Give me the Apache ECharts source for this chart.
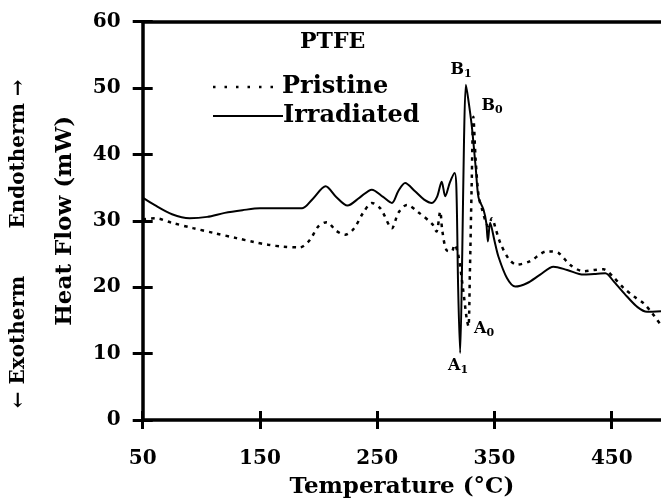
<!DOCTYPE html>
<html><head><meta charset="utf-8">
<script src="https://cdn.jsdelivr.net/npm/echarts@6/dist/echarts.min.js"></script>
<style>html,body{margin:0;padding:0;background:#fff}#c{width:661px;height:499px}</style>
</head><body><div id="c"></div>
<script>
// Temperature (°C) / Heat flow (mW) pairs
const irradiated = [[50,33.5],[60,32.4],[75,31.0],[90,30.4],[105,30.6],[120,31.2],[135,31.6],[150,31.9],[170,31.9],[186,31.9],[195,33.3],[206,35.2],[215,33.6],[224.6,32.3],[235,33.5],[245.4,34.7],[255,33.6],[262.5,32.7],[268,34.5],[273.8,35.7],[282,34.5],[290,33.2],[296.6,32.7],[301,33.6],[305,35.9],[308,33.7],[312,35.8],[316,37.2],[317.5,35],[319,20],[320.7,10.1],[322.5,25],[324,42],[325.6,50.5],[327.5,48.5],[330.7,44.2],[334,38],[336.4,33.5],[340.6,31.7],[343,29.7],[344.4,26.9],[346.3,29.7],[350,27],[353.4,24.6],[360.6,21.4],[367.7,20.1],[377.6,20.6],[389,21.9],[400.3,23.1],[412,22.6],[425.9,21.9],[435,22.0],[444.5,22.1],[452,20.8],[463,18.6],[472,17.0],[480,16.3],[492,16.4]];
const pristine = [[50,30.2],[60.5,30.4],[75,29.7],[93,28.9],[110,28.2],[130,27.4],[145,26.8],[157,26.4],[170,26.1],[184,26.0],[192,27],[200,29.2],[207,29.8],[215,28.5],[222.6,27.9],[230,28.8],[238,31.2],[245.4,32.7],[253,31.8],[262.5,28.9],[268,31.2],[275.3,32.4],[285,31.3],[297,29.5],[300.5,28.4],[303.7,31.4],[305.5,28.5],[309,25.6],[313.6,25.4],[315.8,26.4],[319,25],[323,20],[326.5,15],[327.8,14.1],[329,22],[330.5,35],[332,45.7],[334,39],[336.5,33.7],[339,32],[344.6,29.2],[347.8,30.4],[351,28.8],[354.9,26.7],[362,24.3],[369,23.4],[380,23.9],[394.7,25.4],[399,25.4],[405,25.1],[415,23.3],[426,22.4],[435,22.6],[443,22.7],[451,21.6],[460,19.9],[469,18.6],[477,17.6],[484,16.2],[488.6,15.1],[492,14.3]];
const xTicks = [50,150,250,350,450];
const yTicks = [0,10,20,30,40,50,60];
const seriesNames = ['Pristine','Irradiated'];

const F = 'DejaVu Serif';
const chart = echarts.init(document.getElementById('c'), null, {renderer:'canvas'});
const axLine = {show:true, lineStyle:{color:'#000', width:3.5}};
const sub = (a,b)=>({text:'{b|'+a+'}{s|'+b+'}', align:'center', verticalAlign:'middle', rich:{b:{font:'bold 16px "DejaVu Serif"', fill:'#000'}, s:{font:'bold 11px "DejaVu Serif"', fill:'#000', padding:[8,0,0,0]}}});
chart.setOption({
  animation:false,
  backgroundColor:'#fff',
  grid:{left:142.7, right:0, top:21.7, bottom:79, containLabel:false, outerBoundsMode:'none'},
  xAxis:[
    {type:'value', min:50, max:492, position:'bottom',
     axisLine:axLine, splitLine:{show:false},
     axisTick:{show:true, length:9, customValues:xTicks, lineStyle:{color:'#000', width:3}},
     axisLabel:{show:true, customValues:xTicks, margin:29, fontFamily:F, fontWeight:'bold', fontSize:20, color:'#000'},
     name:'Temperature (°C)', nameLocation:'middle', nameGap:56,
     nameTextStyle:{fontFamily:F, fontWeight:'bold', fontSize:23, color:'#000'}},
    {type:'value', min:50, max:492, position:'bottom',
     axisLine:{show:false}, splitLine:{show:false},
     axisTick:{show:true, inside:true, length:9, customValues:xTicks, lineStyle:{color:'#000', width:3}},
     axisLabel:{show:false}},
    {type:'value', min:50, max:492, position:'top',
     axisLine:axLine, splitLine:{show:false}, axisTick:{show:false}, axisLabel:{show:false}}
  ],
  yAxis:[
    {type:'value', min:0, max:60, interval:10, position:'left',
     axisLine:axLine, splitLine:{show:false},
     axisTick:{show:true, length:10, lineStyle:{color:'#000', width:3}},
     axisLabel:{show:true, margin:22, fontFamily:F, fontWeight:'bold', fontSize:20, color:'#000'},
     name:'Heat Flow (mW)', nameLocation:'middle', nameGap:66, nameRotate:90,
     nameTextStyle:{fontFamily:F, fontWeight:'bold', fontSize:23, color:'#000'}},
    {type:'value', min:0, max:60, interval:10, position:'left',
     axisLine:{show:false}, splitLine:{show:false},
     axisTick:{show:true, inside:true, length:10, lineStyle:{color:'#000', width:3}},
     axisLabel:{show:false}}
  ],
  series:[
    {name:seriesNames[0], type:'line', data:pristine, symbol:'none', smooth:0.3,
     lineStyle:{color:'#000', width:2.5, type:[3.5,5]}},
    {name:seriesNames[1], type:'line', data:irradiated, symbol:'none', smooth:0.3,
     lineStyle:{color:'#000', width:2, type:'solid'}}
  ],
  graphic:[
    {type:'text', left:300, top:31, style:{text:'PTFE', font:'bold 22px "DejaVu Serif"', fill:'#000'}},
    {type:'line', shape:{x1:213, y1:87, x2:277, y2:87}, style:{stroke:'#000', lineWidth:2.5, lineDash:[2.5,9]}},
    {type:'text', x:282, y:87, style:{text:seriesNames[0], font:'bold 24px "DejaVu Serif"', fill:'#000', verticalAlign:'middle'}},
    {type:'line', shape:{x1:213, y1:116, x2:283, y2:116}, style:{stroke:'#000', lineWidth:2}},
    {type:'text', x:283, y:116, style:{text:seriesNames[1], font:'bold 24px "DejaVu Serif"', fill:'#000', verticalAlign:'middle'}},
    {type:'text', x:19, y:154, rotation:Math.PI/2, style:{text:'Endotherm →', font:'bold 20px "DejaVu Serif"', fill:'#000', align:'center', verticalAlign:'middle'}},
    {type:'text', x:19, y:342, rotation:Math.PI/2, style:{text:'← Exotherm', font:'bold 20px "DejaVu Serif"', fill:'#000', align:'center', verticalAlign:'middle'}},
    {type:'text', x:461, y:70, style:sub('B','1')},
    {type:'text', x:492, y:106, style:sub('B','0')},
    {type:'text', x:484, y:329, style:sub('A','0')},
    {type:'text', x:458, y:366, style:sub('A','1')}
  ]
});
</script></body></html>
